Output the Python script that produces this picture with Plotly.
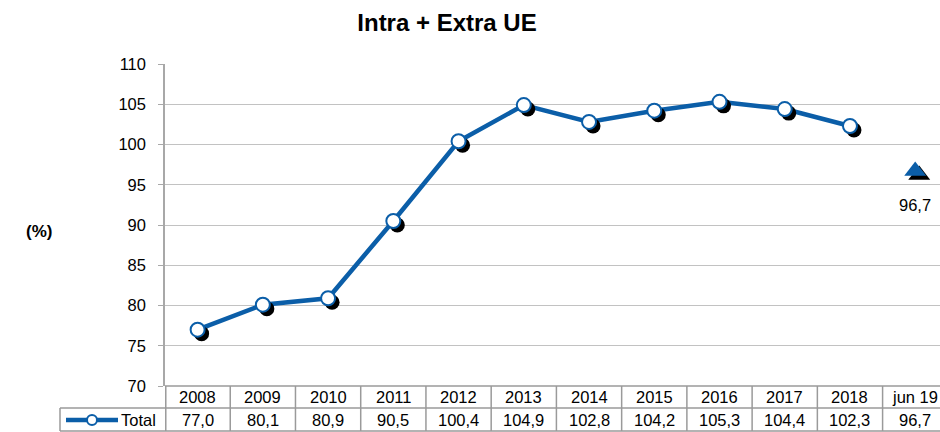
import plotly.graph_objects as go

categories = ["2008", "2009", "2010", "2011", "2012", "2013", "2014", "2015", "2016", "2017", "2018", "jun 19"]
values = [77.0, 80.1, 80.9, 90.5, 100.4, 104.9, 102.8, 104.2, 105.3, 104.4, 102.3, 96.7]
value_labels = ["77,0", "80,1", "80,9", "90,5", "100,4", "104,9", "102,8", "104,2", "105,3", "104,4", "102,3", "96,7"]
series_name = "Total"
y_ticks = [70, 75, 80, 85, 90, 95, 100, 105, 110]

W, H = 940, 432
ML, MR, MT, MB = 165, 0, 64, 46
PW, PH = W - ML - MR, H - MT - MB
XR = [-0.5, 11.38]
YR = [70, 110]
BLUE = "#0b5ea8"
GRID = "#c2c2c2"
TBL = "#9a9a9a"
FONT = "Liberation Sans, Arial, sans-serif"
FS = 16.5

xs = list(range(len(categories)))
line_x, line_y = xs[:-1], values[:-1]
last_x, last_y = xs[-1], values[-1]

# shadow offset of 4 px converted into data units
dx = 4 * (XR[1] - XR[0]) / PW
dy = 4 * (YR[1] - YR[0]) / PH

fig = go.Figure()
fig.add_trace(go.Scatter(x=line_x, y=line_y, mode="lines",
                         line=dict(color=BLUE, width=4.5), hoverinfo="skip", showlegend=False))
fig.add_trace(go.Scatter(x=[v + dx for v in line_x], y=[v - dy for v in line_y], mode="markers",
                         marker=dict(color="black", size=15, line=dict(width=0)),
                         hoverinfo="skip", showlegend=False))
fig.add_trace(go.Scatter(x=line_x, y=line_y, mode="markers", name=series_name,
                         marker=dict(color="white", size=14, line=dict(color=BLUE, width=2)),
                         showlegend=False))
fig.add_trace(go.Scatter(x=[last_x + dx], y=[last_y - dy], mode="markers",
                         marker=dict(symbol="triangle-up", color="black", size=19, line=dict(width=0)),
                         hoverinfo="skip", showlegend=False))
fig.add_trace(go.Scatter(x=[last_x], y=[last_y], mode="markers",
                         marker=dict(symbol="triangle-up", color=BLUE, size=19, line=dict(width=0)),
                         showlegend=False))

annotations = []
annotations.append(dict(x=last_x, y=last_y, xref="x", yref="y", text=value_labels[-1],
                        showarrow=False, yshift=-34, font=dict(size=FS, color="#000")))

row1_y = -11 / PH
row2_y = -34 / PH
for i, (c, lab) in enumerate(zip(categories, value_labels)):
    annotations.append(dict(x=i, y=row1_y, xref="x", yref="paper", text=c, showarrow=False,
                            yanchor="middle", font=dict(size=FS, color="#000")))
    annotations.append(dict(x=i, y=row2_y, xref="x", yref="paper", text=lab, showarrow=False,
                            yanchor="middle", font=dict(size=FS, color="#000")))

annotations.append(dict(x=(119 - ML) / PW, y=row2_y, xref="paper", yref="paper", text=series_name,
                        showarrow=False, xanchor="left", yanchor="middle", font=dict(size=FS, color="#000")))
annotations.append(dict(x=(24 - ML) / PW, y=1 - (231 - MT) / PH, xref="paper", yref="paper",
                        text="<b>(%)</b>", showarrow=False, font=dict(size=17, color="#000")))

shapes = []
y_top = 0
y_mid = -22 / PH
y_bot = -45 / PH
leg_left = (60 - ML) / PW
shapes.append(dict(type="line", xref="paper", yref="paper", x0=0, x1=1, y0=y_top, y1=y_top,
                   line=dict(color=TBL, width=1.5)))
shapes.append(dict(type="line", xref="paper", yref="paper", x0=leg_left, x1=1, y0=y_mid, y1=y_mid,
                   line=dict(color=TBL, width=1.5)))
shapes.append(dict(type="line", xref="paper", yref="paper", x0=leg_left, x1=1, y0=y_bot, y1=y_bot,
                   line=dict(color=TBL, width=1.5)))
for i in range(len(categories) + 1):
    xb = i - 0.5 + (0.012 if i == 0 else 0)
    shapes.append(dict(type="line", xref="x", yref="paper", x0=xb, x1=xb, y0=y_top, y1=y_bot,
                       line=dict(color=TBL, width=1.5)))
shapes.append(dict(type="line", xref="paper", yref="paper", x0=leg_left, x1=leg_left, y0=y_mid, y1=y_bot,
                   line=dict(color=TBL, width=1.5)))
# legend key
shapes.append(dict(type="line", xref="paper", yref="paper", x0=(66 - ML) / PW, x1=(118 - ML) / PW,
                   y0=row2_y, y1=row2_y, line=dict(color=BLUE, width=4.5)))
cx, cy = (92 - ML) / PW, row2_y
rx, ry = 5 / PW, 5 / PH
shapes.append(dict(type="circle", xref="paper", yref="paper", x0=cx - rx, x1=cx + rx, y0=cy - ry, y1=cy + ry,
                   fillcolor="white", line=dict(color=BLUE, width=2)))

fig.update_layout(
    width=W, height=H,
    margin=dict(l=ML, r=MR, t=MT, b=MB, pad=0),
    paper_bgcolor="white", plot_bgcolor="white",
    font=dict(family=FONT, size=FS, color="#000"),
    title=dict(text="<b>Intra + Extra UE</b>", x=447 / W, xref="container", xanchor="center",
               y=1 - 23 / H, yref="container", yanchor="middle",
               font=dict(size=24, family=FONT, color="#000")),
    xaxis=dict(range=XR, showgrid=False, zeroline=False, showticklabels=False, showline=False,
               ticks="", fixedrange=True),
    yaxis=dict(range=YR, tickvals=y_ticks, showgrid=True, gridcolor=GRID, gridwidth=1.3,
               zeroline=False, showline=True, linecolor="#a8a8a8", linewidth=1.5,
               ticks="outside", ticklen=5, tickcolor="#a8a8a8", ticklabelstandoff=9,
               tickfont=dict(size=FS, color="#000")),
    shapes=shapes,
    annotations=annotations,
    showlegend=False,
)

fig.write_html("out.html", config={"displayModeBar": False},
               post_script="document.body.style.margin='0';document.body.style.overflow='hidden';")
